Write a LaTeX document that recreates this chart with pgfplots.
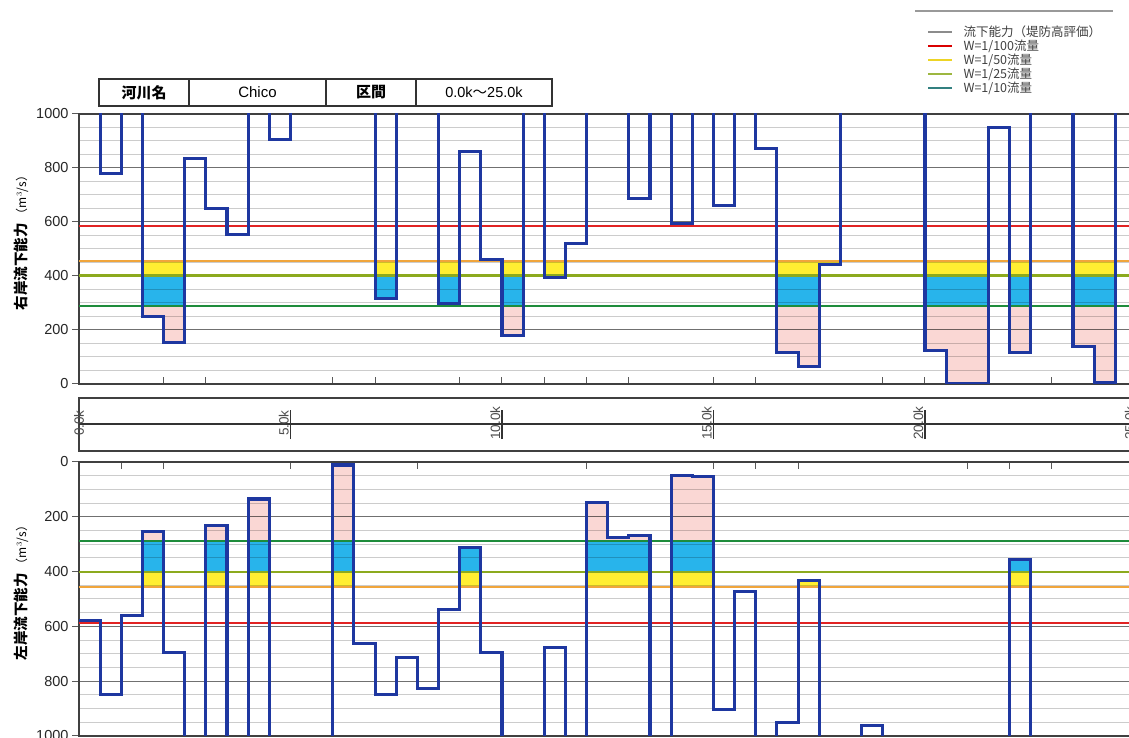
\documentclass[border=0pt]{standalone}
\usepackage{fontspec}
\setmainfont{Liberation Sans}
\newfontfamily\jp{Noto Sans CJK JP}
\usepackage{pgfplots}
\pgfplotsset{compat=1.18}
\usepackage{pgfplotstable}

\definecolor{stepblue}{RGB}{30,55,160}
\definecolor{yellowfill}{RGB}{255,238,50}
\definecolor{bluefill}{RGB}{40,180,235}
\definecolor{pinkfill}{RGB}{250,215,212}
\definecolor{lineA}{RGB}{225,35,35}
\definecolor{lineB}{RGB}{240,165,60}
\definecolor{lineC}{RGB}{140,170,30}
\definecolor{lineD}{RGB}{30,140,60}

% right bank capacity (m3/s), step values from x (km); 1100 = above chart
\pgfplotstableread{
x v
0 1100
0.5 778
1 1100
1.5 250
2 155
2.5 835
3 650
3.5 555
4 1100
4.5 905
5 1100
7 315
7.5 1100
8.5 298
9 862
9.5 460
10 180
10.5 1100
11 395
11.5 520
12 1100
13 687
13.5 1100
14 596
14.5 1100
15 661
15.5 1100
16 872
16.5 115
17 65
17.5 441
18 1100
20 123
20.5 2
21.5 951
22 115
22.5 1100
23.5 139
24 6
24.5 1100
25 1100
}\rightbank

% left bank capacity
\pgfplotstableread{
x v
0 577
0.5 847
1 559
1.5 255
2 695
2.5 1100
3 233
3.5 1100
4 135
4.5 1100
6 11
6.5 662
7 849
7.5 713
8 827
8.5 538
9 313
9.5 695
10 1100
11 678
11.5 1100
12 148
12.5 277
13 269
13.5 1100
14 49
14.5 52
15 904
15.5 471
16 1100
16.5 950
17 434
17.5 1100
18.5 962
19 1100
22 356
22.5 1100
25 1100
}\leftbank

\pgfplotsset{
  panel/.style={
    set layers,
    scale only axis, width=1057.5pt,
    xmin=0, xmax=25, ymin=0, ymax=1000,
    ytick={0,200,400,600,800,1000},
    minor ytick={0,50,...,1000},
    ymajorgrids, yminorgrids,
    major grid style={draw=black, draw opacity=0.45, line width=1pt},
    minor grid style={draw=black, draw opacity=0.2, line width=1pt},
    xticklabels={},
    ytick pos=left,
    axis line style={draw=black!75, line width=1.6pt},
    major tick length=7pt, minor tick length=0pt,
    tick style={draw=black!65, line width=1pt},
    ytick align=outside, xtick align=inside,
    yticklabel style={font=\fontsize{14.5}{14.5}\selectfont, text=black!85},
    /pgf/number format/assume math mode=true,
    /pgf/number format/1000 sep={},
  },
}

\newcommand{\bandsandlines}[1]{%
  \addplot[draw=none, fill=yellowfill, on layer=axis background] coordinates {(0,457) (25,457)} \closedcycle;
  \addplot[draw=none, fill=bluefill, on layer=axis background] coordinates {(0,402) (25,402)} \closedcycle;
  \addplot[draw=none, fill=pinkfill, on layer=axis background] coordinates {(0,290) (25,290)} \closedcycle;
  \addplot[draw=none, fill=white, const plot, on layer=axis background] table[x=x, y expr={min(\thisrow{v},1000)}] {#1} \closedcycle;
  \addplot[lineD, line width=2pt] coordinates {(0,290) (25,290)};
  \addplot[lineC, line width=2.2pt] coordinates {(0,402) (25,402)};
  \addplot[lineB, line width=2.2pt] coordinates {(0,457) (25,457)};
  \addplot[lineA, line width=2pt] coordinates {(0,586) (25,586)};
  \addplot[const plot, draw=stepblue, line width=3.1pt] table[x=x, y=v] {#1};
}

\begin{document}
\begin{tikzpicture}

% ---- top panel (right bank)
\begin{axis}[panel, at={(79pt,354pt)}, anchor=south west, height=270pt,
  xtick={2,3,6,7,9,10,11,12,13,15,16,19,20,23}, xtick pos=left]
\bandsandlines{\rightbank}
\end{axis}

% ---- km ruler
\begin{axis}[at={(79pt,287pt)}, anchor=south west, scale only axis,
  width=1057.5pt, height=53pt, xmin=0, xmax=25, ymin=0, ymax=2,
  ticks=none, clip=false, axis line style={draw=black!75, line width=2.2pt}]
\addplot[black!80, line width=2pt] coordinates {(0,1) (25,1)};
\pgfplotsinvokeforeach{5,10,15,20,25}{
  \draw[black!80, line width=1.8pt] (axis cs:#1,0.45) -- (axis cs:#1,1.55);
  \node[rotate=90, anchor=south, inner sep=1.5pt, text=black!70,
        font=\fontsize{13.5}{13.5}\selectfont] at (axis cs:#1,1.05) {#1.0k};
}
\node[rotate=90, anchor=south, inner sep=1.5pt, text=black!70,
      font=\fontsize{13.5}{13.5}\selectfont] at (axis cs:0.16,1.05) {0.0k};
\end{axis}

% ---- bottom panel (left bank)
\begin{axis}[panel, y dir=reverse, at={(79pt,2pt)}, anchor=south west, height=274pt,
  xtick={1,2,5,8,12,15,16,17,21,22,23}, xtick pos=right]
\bandsandlines{\leftbank}
\end{axis}

% ---- axis titles
\node[rotate=90] at (21pt,498pt) {{\jp\bfseries\fontsize{14.5}{14.5}\selectfont 右岸流下能力}\hspace{3pt}{\jp\fontsize{12}{12}\selectfont （m$^{3}$/s）}};
\node[rotate=90] at (21pt,148pt) {{\jp\bfseries\fontsize{14.5}{14.5}\selectfont 左岸流下能力}\hspace{3pt}{\jp\fontsize{12}{12}\selectfont （m$^{3}$/s）}};

% ---- river/section table
\draw[black!80, line width=1.4pt] (99pt,632pt) rectangle (552pt,659pt);
\foreach \xx in {189,326,416} \draw[black!80, line width=1.4pt] (\xx pt,632pt) -- (\xx pt,659pt);
\node at (144pt,645.5pt) {\jp\bfseries\fontsize{15}{15}\selectfont 河川名};
\node at (257.5pt,645.5pt) {\fontsize{15}{15}\selectfont Chico};
\node at (371pt,645.5pt) {\jp\bfseries\fontsize{15}{15}\selectfont 区間};
\node at (484pt,645.5pt) {\fontsize{14.5}{15}\selectfont 0.0k{\jp ～}25.0k};

% ---- legend
\draw[black!40, line width=1.2pt] (915pt,727pt) -- (1113pt,727pt);
\begin{scope}[font=\jp\fontsize{12.5}{12.5}\selectfont]
\draw[black!45, line width=1.4pt] (928pt,706pt) -- (952pt,706pt);
\node[anchor=west, text=black!75] at (960pt,706pt) {流下能力（堤防高評価）};
\draw[red!85!black, line width=1.4pt] (928pt,692pt) -- (952pt,692pt);
\node[anchor=west, text=black!75] at (960pt,692pt) {W=1/100流量};
\draw[yellow!70!brown, line width=1.4pt] (928pt,678pt) -- (952pt,678pt);
\node[anchor=west, text=black!75] at (960pt,678pt) {W=1/50流量};
\draw[lineC!85, line width=1.4pt] (928pt,664pt) -- (952pt,664pt);
\node[anchor=west, text=black!75] at (960pt,664pt) {W=1/25流量};
\draw[teal!60!gray, line width=1.4pt] (928pt,650pt) -- (952pt,650pt);
\node[anchor=west, text=black!75] at (960pt,650pt) {W=1/10流量};
\end{scope}

\pgfresetboundingbox
\useasboundingbox (0pt,0pt) rectangle (1129pt,738pt);
\end{tikzpicture}
\end{document}
